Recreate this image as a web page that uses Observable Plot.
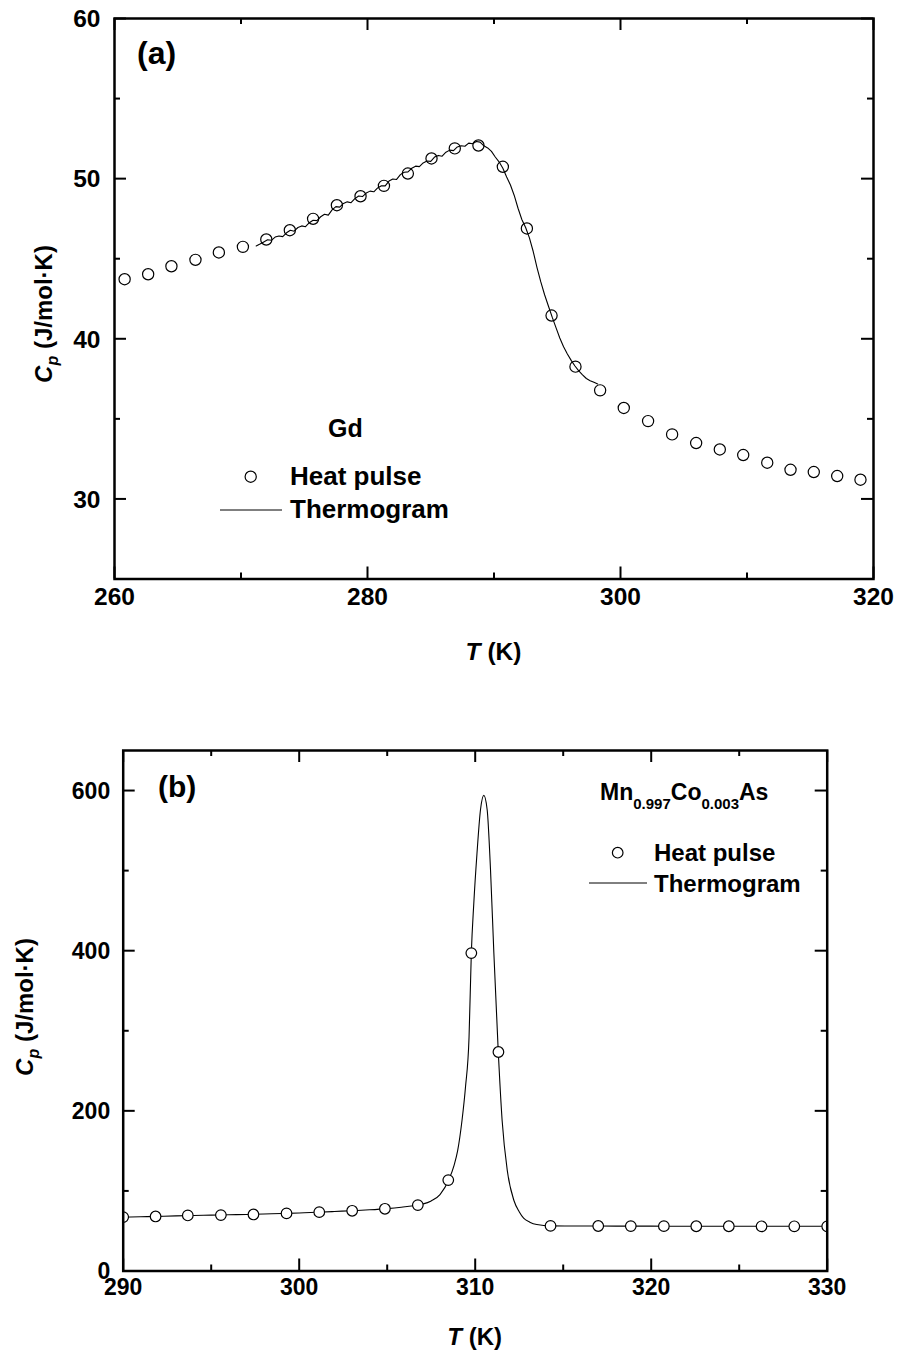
<!DOCTYPE html>
<html>
<head>
<meta charset="utf-8">
<script src="https://cdn.jsdelivr.net/npm/d3@7"></script>
<script src="https://cdn.jsdelivr.net/npm/@observablehq/plot@0.6"></script>
<style>
  html, body { margin: 0; padding: 0; background: #fff; }
  #wrap { position: relative; width: 899px; height: 1352px; background: #fff; }
  #wrap svg { position: absolute; left: 0; }
</style>
</head>
<body>
<div id="wrap"></div>
<script>
// ---------- (a) Gd ----------
const gdPulseT  = [260.8, 262.66, 264.5, 266.4, 268.25, 270.15, 272.0, 273.86, 275.7, 277.58, 279.45,
                   281.3, 283.19, 285.06, 286.9, 288.77, 290.7, 292.6, 294.55, 296.44, 298.39, 300.26,
                   302.18, 304.08, 305.98, 307.85, 309.7, 311.6, 313.44, 315.28, 317.13, 318.97];
const gdPulseCp = [43.72, 44.03, 44.53, 44.93, 45.39, 45.74, 46.2, 46.78, 47.49, 48.34, 48.9,
                   49.55, 50.32, 51.26, 51.89, 52.07, 50.74, 46.89, 41.45, 38.26, 36.78, 35.68,
                   34.86, 34.03, 33.49, 33.09, 32.74, 32.26, 31.82, 31.68, 31.43, 31.2];

const gdThermoT  = [271.2, 271.5, 271.8, 272.1, 272.4, 272.7, 273.0, 273.3, 273.6, 273.9,
                    274.2, 274.5, 274.8, 275.1, 275.4, 275.7, 276.0, 276.3, 276.6, 276.9,
                    277.2, 277.5, 277.8, 278.1, 278.4, 278.7, 279.0, 279.3, 279.6, 279.9,
                    280.2, 280.5, 280.8, 281.1, 281.4, 281.7, 282.0, 282.3, 282.6, 282.9,
                    283.2, 283.5, 283.8, 284.1, 284.4, 284.7, 285.0, 285.3, 285.6, 285.9,
                    286.2, 286.5, 286.8, 287.1, 287.4, 287.7, 288.0, 288.3, 288.6, 288.9,
                    289.2, 289.5, 289.8, 290.1, 290.4, 290.7, 291.0, 291.3, 291.6, 291.9,
                    292.2, 292.5, 292.8, 293.1, 293.4, 293.7, 294.0, 294.3, 294.6, 294.9,
                    295.2, 295.5, 295.8, 296.1, 296.4, 296.7, 297.0, 297.3, 297.6, 297.9, 298.2];
const gdThermoCp = [45.80, 45.92, 46.05, 46.18, 46.15, 46.35, 46.42, 46.38, 46.62, 46.78,
                    46.72, 46.95, 47.05, 47.00, 47.25, 47.40, 47.38, 47.62, 47.78, 47.72,
                    48.05, 48.25, 48.22, 48.45, 48.55, 48.50, 48.75, 48.92, 48.88, 49.10,
                    49.22, 49.18, 49.42, 49.55, 49.55, 49.85, 49.98, 49.95, 50.25, 50.40,
                    50.42, 50.65, 50.78, 50.75, 50.98, 51.10, 51.08, 51.35, 51.45, 51.40,
                    51.65, 51.78, 51.75, 51.98, 52.05, 52.02, 52.22, 52.18, 52.32, 52.28,
                    52.05, 51.92, 51.70, 51.35, 51.05, 50.65, 50.10, 49.60, 48.95, 48.15,
                    47.45, 46.95, 46.30, 45.45, 44.45, 43.55, 42.75, 42.05, 41.35, 40.70,
                    40.05, 39.50, 39.05, 38.65, 38.30, 38.00, 37.75, 37.52, 37.38, 37.28, 37.18];

const aXMajor = [260, 280, 300, 320];
const aXMinor = [270, 290, 310];
const aYMajor = [30, 40, 50, 60];
const aYMinor = [35, 45, 55];

// ---------- (b) Mn0.997Co0.003As ----------
const mnPulseT  = [290.0, 291.84, 293.67, 295.55, 297.4, 299.28, 301.14, 303.01, 304.87, 306.74, 308.47,
                   309.78, 311.32, 314.28, 316.99, 318.84, 320.72, 322.56, 324.41, 326.27, 328.13, 330.0];
const mnPulseCp = [67.3, 68.1, 69.4, 69.8, 70.6, 71.9, 73.5, 75.2, 77.7, 82.3, 113.5,
                   397, 273.5, 56.3, 56.2, 56.1, 56.0, 55.9, 55.9, 55.8, 55.8, 55.8];

const mnThermoT  = [290.0, 291.0, 292.0, 293.0, 294.0, 295.0, 296.0, 297.0, 298.0, 299.0,
                    300.0, 301.0, 302.0, 303.0, 304.0, 305.0, 305.8, 306.5, 307.0, 307.5,
                    308.0, 308.5, 308.8, 309.0, 309.25, 309.45, 309.65, 309.78, 309.92, 310.1,
                    310.3, 310.49, 310.68, 310.87, 311.06, 311.31, 311.53, 311.82, 312.2, 312.5,
                    312.75, 313.1, 313.5, 314.3, 316.0, 318.0, 320.0, 322.0, 324.0, 326.0, 328.0, 330.0];
const mnThermoCp = [67.3, 67.7, 68.2, 68.8, 69.4, 69.8, 70.2, 70.6, 71.2, 71.8,
                    72.5, 73.3, 74.3, 75.3, 76.4, 77.9, 79.6, 81.5, 83.5, 87.5,
                    95.5, 114, 132, 150, 188, 230, 292, 397, 459, 521,
                    576, 594, 576, 501, 397, 274, 188, 126, 88, 74,
                    66, 61, 58, 56.3, 56.2, 56.1, 56.0, 55.9, 55.9, 55.8, 55.8, 55.8];

const bXMajor = [290, 300, 310, 320, 330];
const bXMinor = [295, 305, 315, 325];
const bYMajor = [0, 200, 400, 600];
const bYMinor = [100, 300, 500];

// ---------- helpers ----------
const FONT = "'Liberation Sans', Arial, Helvetica, sans-serif";
const W = 899;
const root = document.getElementById("wrap");

const zip = (xs, ys) => xs.map((T, i) => ({T, Cp: ys[i]}));

// Inward-pointing ticks on all four sides of the frame
function boxTicks(fw, fh, xMajor, xMinor, yMajor, yMinor) {
  const big = 12, small = 6, sw = 2;
  const o = {stroke: "black", strokeWidth: sw};
  return [
    Plot.tickX(xMajor, {x: d => d, insetTop: fh - big, ...o}),
    Plot.tickX(xMajor, {x: d => d, insetBottom: fh - big, ...o}),
    Plot.tickX(xMinor, {x: d => d, insetTop: fh - small, ...o}),
    Plot.tickX(xMinor, {x: d => d, insetBottom: fh - small, ...o}),
    Plot.tickY(yMajor, {y: d => d, insetRight: fw - big, ...o}),
    Plot.tickY(yMajor, {y: d => d, insetLeft: fw - big, ...o}),
    Plot.tickY(yMinor, {y: d => d, insetRight: fw - small, ...o}),
    Plot.tickY(yMinor, {y: d => d, insetLeft: fw - small, ...o})
  ];
}

function panel(cfg) {
  const [mt, mr, mb, ml] = cfg.margins;
  const fw = W - ml - mr, fh = cfg.height - mt - mb;
  const svg = Plot.plot({
    width: W, height: cfg.height,
    marginTop: mt, marginRight: mr, marginBottom: mb, marginLeft: ml,
    x: {domain: cfg.xDomain, axis: null},
    y: {domain: cfg.yDomain, axis: null},
    style: {fontFamily: FONT, background: "white", color: "black", overflow: "visible"},
    marks: [
      ...cfg.marks,
      ...boxTicks(fw, fh, cfg.xMajor, cfg.xMinor, cfg.yMajor, cfg.yMinor),
      Plot.text(cfg.xMajor, {x: d => d, frameAnchor: "bottom", dy: cfg.xLabelDy, text: d => String(d),
        fontSize: cfg.tickFont, fontWeight: "bold", fill: "black"}),
      Plot.text(cfg.yMajor, {y: d => d, frameAnchor: "left", dx: cfg.yLabelDx, dy: 1, textAnchor: "end",
        text: d => String(d), fontSize: cfg.tickFont, fontWeight: "bold", fill: "black"}),
      Plot.frame({stroke: "black", strokeWidth: 2.5})
    ]
  });
  svg.style.top = cfg.top + "px";
  root.appendChild(svg);
  return svg;
}

// Bold text with optional italic / subscript runs
function richText(svg, {x, y, anchor = "start", rotate = 0, size, parts}) {
  const t = d3.select(svg).append("text")
    .attr("transform", `translate(${x},${y})` + (rotate ? ` rotate(${rotate})` : ""))
    .attr("text-anchor", anchor)
    .attr("font-family", FONT)
    .attr("font-weight", "bold")
    .attr("font-size", size)
    .attr("fill", "black");
  for (const p of parts) {
    const s = t.append("tspan").text(p.text);
    if (p.italic) s.attr("font-style", "italic");
    if (p.size) s.attr("font-size", p.size);
    if (p.dy) s.attr("dy", p.dy);
  }
  return t;
}

function legendDot(svg, cx, cy, r, fill) {
  d3.select(svg).append("circle").attr("cx", cx).attr("cy", cy).attr("r", r)
    .attr("fill", fill).attr("stroke", "black").attr("stroke-width", 1.2);
}
function legendLine(svg, x1, x2, y) {
  d3.select(svg).append("line").attr("x1", x1).attr("x2", x2).attr("y1", y).attr("y2", y)
    .attr("stroke", "black").attr("stroke-width", 1);
}

// ---------- panel (a) ----------
const svgA = panel({
  top: 0, height: 680, margins: [18, 26, 101.5, 114],
  xDomain: [260, 320], yDomain: [25, 60],
  xMajor: aXMajor, xMinor: aXMinor, yMajor: aYMajor, yMinor: aYMinor,
  tickFont: 24.5, xLabelDy: 25.5, yLabelDx: -14,
  marks: [
    Plot.line(zip(gdThermoT, gdThermoCp), {x: "T", y: "Cp", stroke: "black", strokeWidth: 1.1}),
    Plot.dot(zip(gdPulseT, gdPulseCp), {x: "T", y: "Cp", r: 5.6, stroke: "black", strokeWidth: 1.2, fill: "none"})
  ]
});
richText(svgA, {x: 137, y: 64, size: 32, parts: [{text: "(a)"}]});
richText(svgA, {x: 328, y: 437, size: 25, parts: [{text: "Gd"}]});
legendDot(svgA, 250.7, 476.7, 5.6, "none");
richText(svgA, {x: 290, y: 485, size: 26, parts: [{text: "Heat pulse"}]});
legendLine(svgA, 220, 282, 510);
richText(svgA, {x: 290, y: 518, size: 26, parts: [{text: "Thermogram"}]});
richText(svgA, {x: 493.5, y: 660, anchor: "middle", size: 24.5,
  parts: [{text: "T", italic: true}, {text: " (K)"}]});
richText(svgA, {x: 52, y: 314, anchor: "middle", rotate: -90, size: 24,
  parts: [{text: "C", italic: true}, {text: "p", italic: true, size: 16, dy: 6}, {text: " (J/mol·K)", dy: -6}]});

// ---------- panel (b) ----------
const svgB = panel({
  top: 680, height: 672, margins: [70, 72.3, 81.5, 122.7],
  xDomain: [290, 330], yDomain: [0, 650],
  xMajor: bXMajor, xMinor: bXMinor, yMajor: bYMajor, yMinor: bYMinor,
  tickFont: 23, xLabelDy: 23.5, yLabelDx: -13,
  marks: [
    Plot.line(zip(mnThermoT, mnThermoCp), {x: "T", y: "Cp", curve: "monotone-x", stroke: "black", strokeWidth: 1.1}),
    Plot.dot(zip(mnPulseT, mnPulseCp), {x: "T", y: "Cp", r: 5.3, stroke: "black", strokeWidth: 1.2, fill: "white", clip: true})
  ]
});
richText(svgB, {x: 158, y: 117, size: 30, parts: [{text: "(b)"}]});
richText(svgB, {x: 600, y: 120, size: 23, parts: [
  {text: "Mn"}, {text: "0.997", size: 15, dy: 9}, {text: "Co", dy: -9},
  {text: "0.003", size: 15, dy: 9}, {text: "As", dy: -9}]});
legendDot(svgB, 617.7, 172.7, 5.3, "white");
richText(svgB, {x: 654, y: 181, size: 24, parts: [{text: "Heat pulse"}]});
legendLine(svgB, 589, 647, 203);
richText(svgB, {x: 654, y: 211.7, size: 24, parts: [{text: "Thermogram"}]});
richText(svgB, {x: 474.7, y: 665, anchor: "middle", size: 24,
  parts: [{text: "T", italic: true}, {text: " (K)"}]});
richText(svgB, {x: 33, y: 327, anchor: "middle", rotate: -90, size: 24,
  parts: [{text: "C", italic: true}, {text: "p", italic: true, size: 16, dy: 6}, {text: " (J/mol·K)", dy: -6}]});
</script>
</body>
</html>
